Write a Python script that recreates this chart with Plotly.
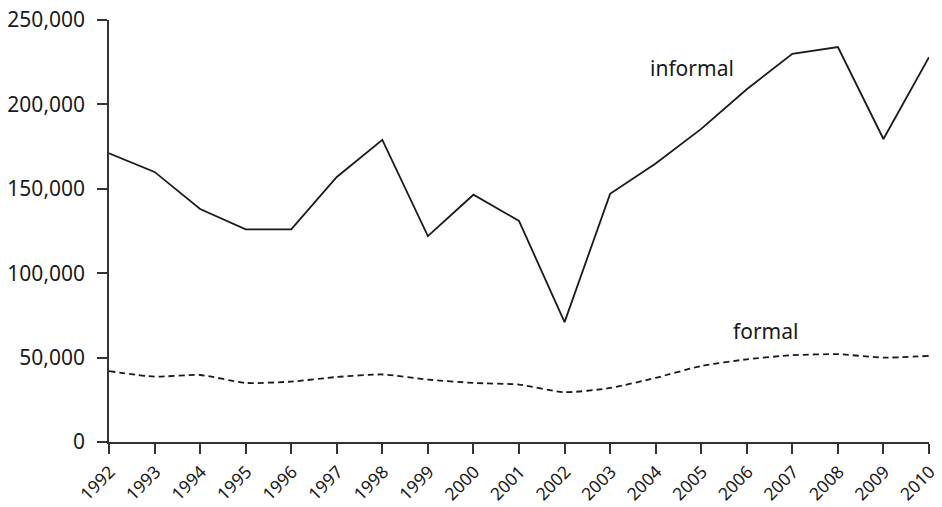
import plotly.graph_objects as go

years = list(range(1992, 2011))
informal = [171000, 160000, 138000, 126000, 126000, 157000, 179000, 122000, 146500, 131000,
            71000, 147000, 165000, 185500, 209000, 230000, 234000, 179500, 228000]
formal = [42000, 38700, 39700, 35000, 35800, 38500, 40000, 37000, 35000, 34000,
          29500, 32000, 38000, 45000, 49000, 51400, 52000, 50000, 51000]
y_ticks = [0, 50000, 100000, 150000, 200000, 250000]

FONT = "Noto Sans"
INK = "#1a1a1a"

fig = go.Figure()
fig.add_trace(go.Scatter(x=years, y=informal, mode="lines", name="informal",
                         line=dict(color=INK, width=1.8), cliponaxis=False))
fig.add_trace(go.Scatter(x=years, y=formal, mode="lines", name="formal",
                         line=dict(color=INK, width=1.8, dash="6px,4px", shape="spline", smoothing=0.6),
                         cliponaxis=False))

fig.add_annotation(x=2004.8, y=221500, text="informal", showarrow=False,
                   font=dict(family=FONT, size=21, color=INK))
fig.add_annotation(x=2006.4, y=65500, text="formal", showarrow=False,
                   font=dict(family=FONT, size=21, color=INK))

# page body has an 8px margin, so the figure is sized and margined to fit the window
fig.update_layout(
    width=934, height=499,
    margin=dict(l=101, r=13, t=12, b=65),
    paper_bgcolor="white", plot_bgcolor="white",
    showlegend=False,
    font=dict(family=FONT, size=21, color=INK),
)
fig.update_xaxes(range=[1992, 2010], tickvals=years, ticktext=[str(y) for y in years],
                 tickangle=-45, showgrid=False, zeroline=False, automargin=False,
                 showline=True, linecolor="#333", linewidth=1.5,
                 ticks="outside", ticklen=10, tickwidth=1.5, tickcolor="#333",
                 ticklabelstandoff=1, ticklabelshift=1, ticklabeloverflow="allow",
                 tickfont=dict(family=FONT, size=17.5, color=INK))
fig.update_yaxes(range=[0, 250000], tickvals=y_ticks, tickformat=",d",
                 showgrid=False, zeroline=False, automargin=False,
                 showline=True, linecolor="#333", linewidth=1.5,
                 ticks="outside", ticklen=10, tickwidth=1.5, tickcolor="#333",
                 ticklabelstandoff=8, ticklabeloverflow="allow",
                 tickfont=dict(family=FONT, size=21, color=INK))

fig.write_html("out.html")
